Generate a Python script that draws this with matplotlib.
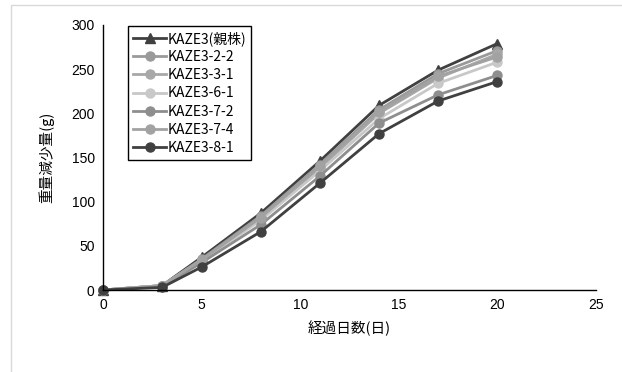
import matplotlib
matplotlib.use("Agg")
from matplotlib import pyplot
from matplotlib.patches import Rectangle

pyplot.rcParams['font.family'] = ['Liberation Sans', 'Noto Sans CJK JP']

days = [0, 3, 5, 8, 11, 14, 17, 20]

names = ["KAZE3(親株)", "KAZE3-2-2", "KAZE3-3-1", "KAZE3-6-1",
         "KAZE3-7-2", "KAZE3-7-4", "KAZE3-8-1"]

kaze3 = [0, 5, 37, 87, 146, 209, 249, 279]
kaze3_2_2 = [0, 5, 35, 84, 142, 204, 245, 271]
kaze3_3_1 = [0, 5, 34, 81, 138, 200, 240, 267]
kaze3_6_1 = [0, 5, 33, 79, 135, 194, 234, 258]
kaze3_7_2 = [0, 4, 31, 74, 129, 189, 221, 243]
kaze3_7_4 = [0, 5, 34, 82, 140, 202, 242, 264]
kaze3_8_1 = [0, 3, 26, 66, 121, 177, 214, 236]

series = [kaze3, kaze3_2_2, kaze3_3_1, kaze3_6_1, kaze3_7_2, kaze3_7_4, kaze3_8_1]
colors = ["#404040", "#9a9a9a", "#a8a8a8", "#c8c8c8", "#8e8e8e", "#a2a2a2", "#404040"]
markers = ["^", "o", "o", "o", "o", "o", "o"]

fig = pyplot.figure(figsize=(6.22, 3.72), dpi=100)
# light outer chart frame
fig.patches.append(Rectangle((11/622, -0.1), 1.2, 1.1 - 5/372,
                             transform=fig.transFigure, fill=False,
                             edgecolor="#d9d9d9", linewidth=1))
axes = fig.add_axes([103/622, 1 - 290/372, 493/622, 265/372])

for vals, name, c, m in zip(series, names, colors, markers):
    axes.plot(days, vals, "-", marker=m, color=c, label=name,
              linewidth=2, markersize=6.5, clip_on=False)

axes.set_xlim(0, 25)
axes.set_ylim(0, 300)
axes.set_xticks(range(0, 26, 5))
axes.set_yticks(range(0, 301, 50))
axes.tick_params(length=0, labelsize=10, pad=6)
axes.spines["top"].set_visible(False)
axes.spines["right"].set_visible(False)
axes.spines["left"].set_linewidth(1)
axes.spines["bottom"].set_linewidth(1)

axes.set_xlabel("経過日数(日)", fontsize=10.5, labelpad=6,
                family=['Noto Sans CJK JP'])
axes.set_ylabel("重量減少量(g)", fontsize=10.5, labelpad=12,
                family=['Noto Sans CJK JP'])

leg = axes.legend(loc="upper left", bbox_to_anchor=(0.051, 0.995),
                  borderaxespad=0, handlelength=2.4,
                  handletextpad=0.1, labelspacing=0.3, fancybox=False,
                  borderpad=0.35, framealpha=1,
                  prop={'family': ['Noto Sans CJK JP'], 'size': 10})
leg.get_frame().set_edgecolor("black")
leg.get_frame().set_linewidth(1)

fig.savefig("out.png", dpi=100)
